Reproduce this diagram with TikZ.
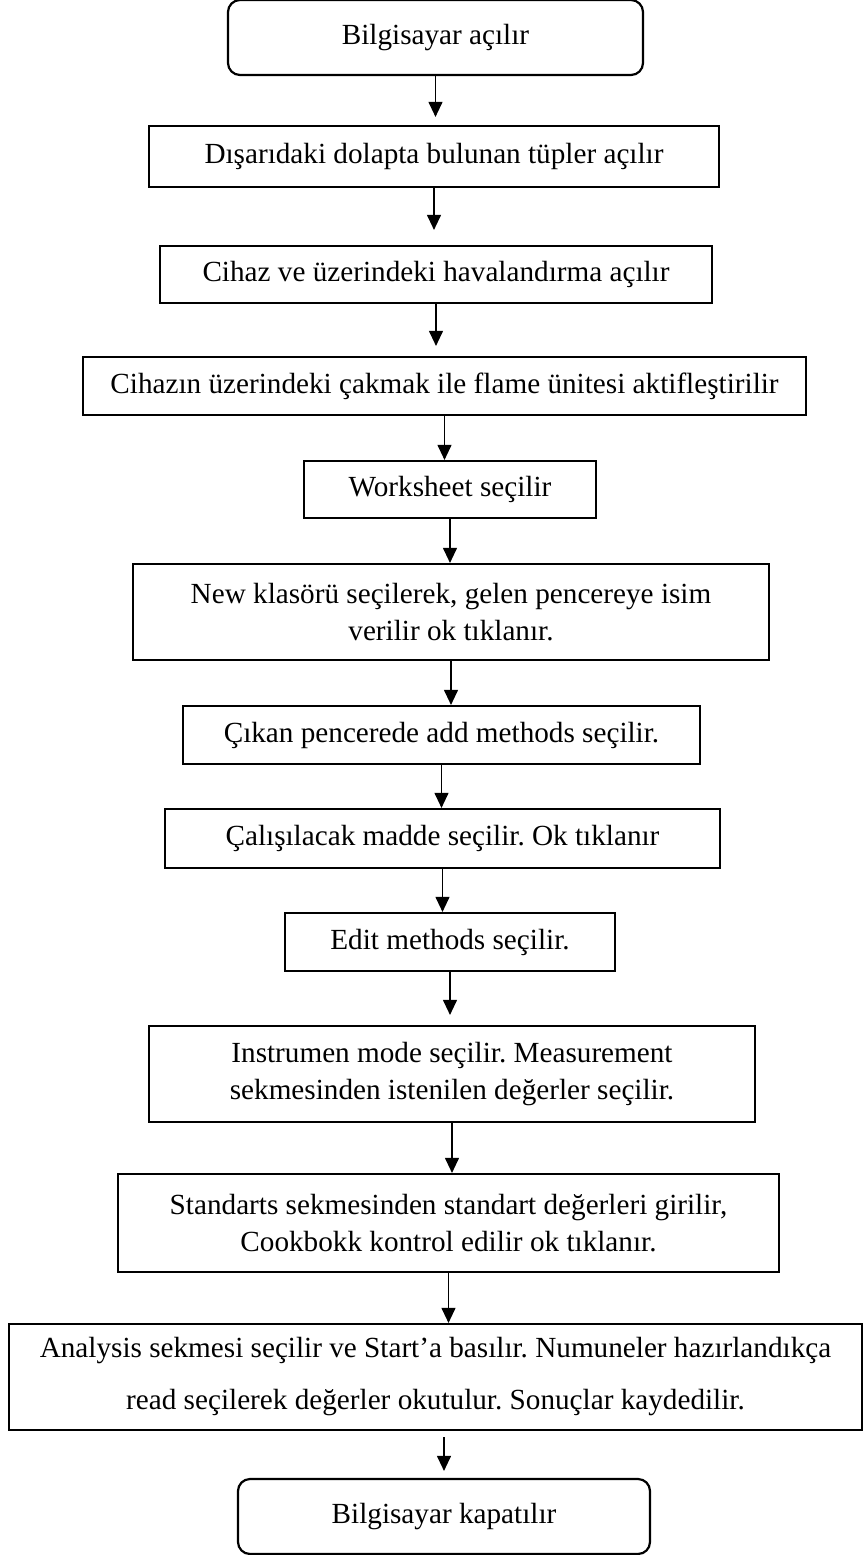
\documentclass[tikz,border=0pt]{standalone}
\usepackage{fontspec}
\setmainfont{Liberation Serif}
\usetikzlibrary{arrows.meta}
\frenchspacing
\newcommand{\boxfont}{\fontsize{14.6pt}{18.5pt}\selectfont}
\newcommand{\wideboxfont}{\fontsize{14.6pt}{26pt}\selectfont}

\begin{document}
\begin{tikzpicture}[
    x=0.5pt,y=-0.5pt,
    box/.style={draw,line width=1.1pt,align=center,font=\boxfont,inner sep=2pt},
    term/.style={box,rounded corners=6pt},
    flow/.style={-{Triangle[length=7.5pt,width=7pt]},line width=0.55pt},
  ]
  \useasboundingbox (0,0) rectangle (863,1555);

  \node[term,minimum width=207.5pt,minimum height=37.5pt] (pcon) at (435.5,37.5) {Bilgisayar açılır};
  \node[box,minimum width=285pt,minimum height=30.5pt] (tup) at (434,156.5) {Dışarıdaki dolapta bulunan tüpler açılır};
  \node[box,minimum width=276pt,minimum height=28.5pt] (cihaz) at (436,274.5) {Cihaz ve üzerindeki havalandırma açılır};
  \node[box,minimum width=361.5pt,minimum height=29pt] (cakmak) at (444.5,386) {Cihazın üzerindeki çakmak ile flame ünitesi aktifleştirilir};
  \node[box,minimum width=146pt,minimum height=28.5pt] (ws) at (450,489.5) {Worksheet seçilir};
  \node[box,minimum width=318pt,minimum height=48pt] (newk) at (451,612) {New klasörü seçilerek, gelen pencereye isim\\verilir ok tıklanır.};
  \node[box,minimum width=258.5pt,minimum height=29pt] (addm) at (441.5,735) {Çıkan pencerede add methods seçilir.};
  \node[box,minimum width=277.5pt,minimum height=29.5pt] (madde) at (442.5,838.5) {Çalışılacak madde seçilir. Ok tıklanır};
  \node[box,minimum width=165pt,minimum height=29pt] (editm) at (450,942) {Edit methods seçilir.};
  \node[box,minimum width=303pt,minimum height=48pt] (instr) at (452,1074) {Instrumen mode seçilir. Measurement\\sekmesinden istenilen değerler seçilir.};
  \node[box,minimum width=330.5pt,minimum height=49pt] (std) at (448.5,1223) {Standarts sekmesinden standart değerleri girilir,\\Cookbokk kontrol edilir ok tıklanır.};
  \node[box,font=\wideboxfont,minimum width=426.5pt,minimum height=53pt] (analiz) at (435.5,1377) {Analysis sekmesi seçilir ve Start’a basılır. Numuneler hazırlandıkça\\read seçilerek değerler okutulur. Sonuçlar kaydedilir.};
  \node[term,minimum width=206pt,minimum height=37.5pt] (pcoff) at (444,1516.5) {Bilgisayar kapatılır};

  \draw[flow,shorten >=4pt] (pcon.south) -- (pcon.south |- tup.north);
  \draw[flow,shorten >=7.5pt] (tup.south) -- (tup.south |- cihaz.north);
  \draw[flow,shorten >=5pt] (cihaz.south) -- (cihaz.south |- cakmak.north);
  \draw[flow] (cakmak.south) -- (cakmak.south |- ws.north);
  \draw[flow] (ws.south) -- (ws.south |- newk.north);
  \draw[flow] (newk.south) -- (newk.south |- addm.north);
  \draw[flow] (addm.south) -- (addm.south |- madde.north);
  \draw[flow] (madde.south) -- (madde.south |- editm.north);
  \draw[flow,shorten >=5pt] (editm.south) -- (editm.south |- instr.north);
  \draw[flow] (instr.south) -- (instr.south |- std.north);
  \draw[flow] (std.south) -- (std.south |- analiz.north);
  \draw[flow,shorten <=3pt,shorten >=3.5pt] (analiz.south -| pcoff.north) -- (pcoff.north);
\end{tikzpicture}
\end{document}
